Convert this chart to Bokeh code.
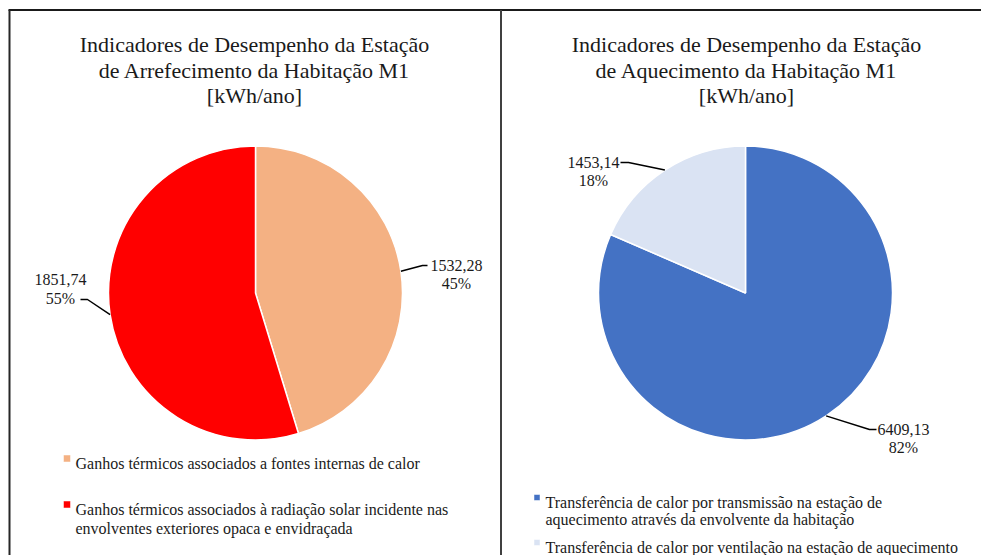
import math
from bokeh.plotting import figure
from bokeh.models import Range1d
from bokeh.core.properties import value
from bokeh.embed import file_html
from bokeh.resources import INLINE

# ---------------- data ----------------
cool_title = ["Indicadores de Desempenho da Estação",
              "de Arrefecimento da Habitação M1",
              "[kWh/ano]"]
cool_categories = [
    ["Ganhos térmicos associados a fontes internas de calor"],
    ["Ganhos térmicos associados à radiação solar incidente nas",
     "envolventes exteriores opaca e envidraçada"],
]
cool_values = [1532.28, 1851.74]
cool_colors = ["#F4B183", "#FF0000"]

heat_title = ["Indicadores de Desempenho da Estação",
              "de Aquecimento da Habitação M1",
              "[kWh/ano]"]
heat_categories = [
    ["Transferência de calor por transmissão na estação de",
     "aquecimento através da envolvente da habitação"],
    ["Transferência de calor por ventilação na estação de aquecimento"],
]
heat_values = [6409.13, 1453.14]
heat_colors = ["#4472C4", "#DAE3F3"]

# ---------------- layout ----------------
W, H = 981, 555
OFF = 0
FONT = value("Liberation Serif")
TXT = "#1a1a1a"


def X(px):
    return px - OFF


def Y(py):
    return H - (py - OFF)


p = figure(width=W, height=H, x_range=Range1d(0, W), y_range=Range1d(0, H),
           output_backend="svg", toolbar_location=None, min_border=0,
           x_axis_type=None, y_axis_type=None)
p.grid.visible = False
p.outline_line_color = None
p.background_fill_color = "white"
p.border_fill_color = "white"

# panel frame lines
p.segment(x0=[X(8), X(9), X(500.5)], y0=[Y(9.5), Y(9.5), Y(9.5)],
          x1=[X(990), X(9), X(500.5)], y1=[Y(9.5), Y(600), Y(600)],
          line_color=["#1a1a1a", "#262626", "#404040"], line_width=2)


def fmt(v):
    return f"{v:.2f}".replace(".", ",")


def panel(title, cats, values, colors, cx, cy, r, title_x, label_specs,
          legend_x, legend_rows, marker_size):
    # title
    for line, base in zip(title, [44, 69.5, 95]):
        p.text(x=[X(title_x)], y=[Y(base)], text=[line], text_font=FONT,
               text_font_size="22px", text_align="center",
               text_baseline="alphabetic", text_color=TXT)
    total = sum(values)
    starts, ends, mids = [], [], []
    cum = 0.0
    for v in values:
        a0 = cum / total
        cum += v
        a1 = cum / total
        starts.append(math.pi / 2 - a1 * 2 * math.pi)
        ends.append(math.pi / 2 - a0 * 2 * math.pi)
        mids.append((a0 + a1) / 2 * 2 * math.pi)
    n = len(values)
    p.wedge(x=[X(cx)] * n, y=[Y(cy)] * n, radius=r, radius_units="screen",
            start_angle=starts, end_angle=ends, direction="anticlock",
            fill_color=colors, line_color="white", line_width=1.5)
    # data labels with leader lines
    for v, th, spec in zip(values, mids, label_specs):
        tx, b1, b2, (hx0, hx1, hy) = spec
        ex = cx + r * math.sin(th)
        ey = cy - r * math.cos(th)
        p.line(x=[X(hx0), X(hx1), X(ex)], y=[Y(hy), Y(hy), Y(ey)],
               line_color="#000000", line_width=1.5)
        pct = f"{round(v / total * 100)}%"
        for t, b in ((fmt(v), b1), (pct, b2)):
            p.text(x=[X(tx)], y=[Y(b)], text=[t], text_font=FONT,
                   text_font_size="16px", text_align="center",
                   text_baseline="alphabetic", text_color=TXT)
    # legend
    for lines, col, rows in zip(cats, colors, legend_rows):
        p.scatter(x=[X(legend_x - 8.5)], y=[Y(rows[0] - 5)], marker="square",
                  size=marker_size, fill_color=col, line_color="white",
                  line_width=0.5)
        for line, base in zip(lines, rows):
            p.text(x=[X(legend_x)], y=[Y(base)], text=[line], text_font=FONT,
                   text_font_size="16px", text_align="left",
                   text_baseline="alphabetic", text_color=TXT)


panel(cool_title, cool_categories, cool_values, cool_colors,
      cx=255, cy=292.5, r=147, title_x=254,
      label_specs=[(456, 265, 283, (427, 422, 265)),
                   (60, 279, 298, (80, 87, 299))],
      legend_x=75, legend_rows=[[463], [509, 528]], marker_size=7)

panel(heat_title, heat_categories, heat_values, heat_colors,
      cx=745, cy=292.5, r=147, title_x=746,
      label_specs=[(903, 429, 447, (876, 869, 429)),
                   (593, 162, 180, (620, 628, 162))],
      legend_x=545, legend_rows=[[502, 519], [547]], marker_size=6)

open("out.html", "w").write(file_html(p, INLINE))
